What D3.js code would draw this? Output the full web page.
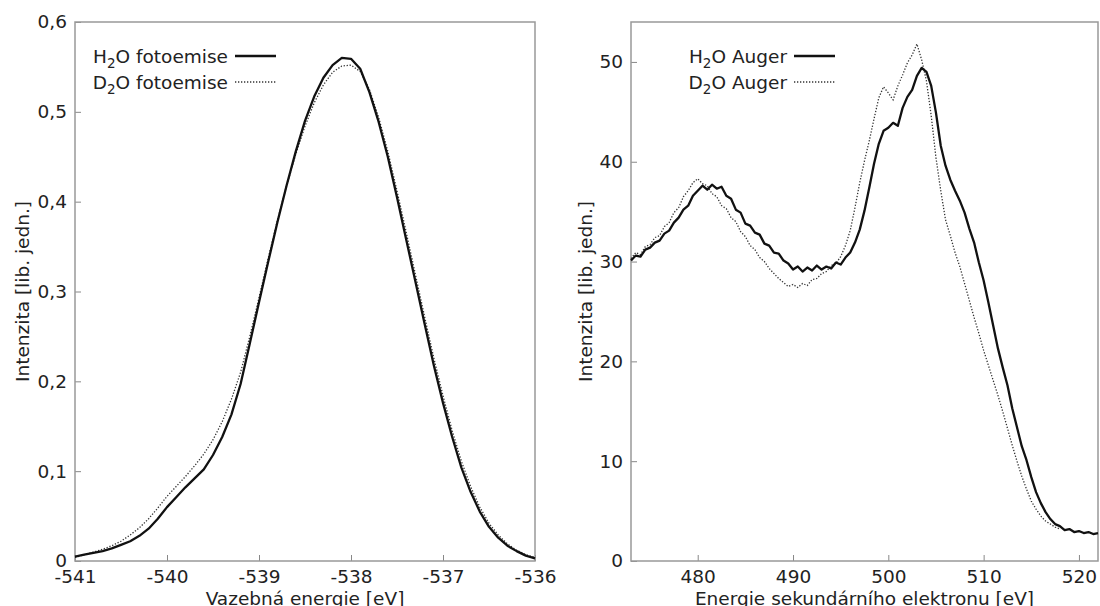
<!DOCTYPE html>
<html lang="cs">
<head>
<meta charset="UTF-8">
<title>Fotoemise a Auger</title>
<script src="https://d3js.org/d3.v7.min.js"></script>
<style>
  body { margin: 0; background: #fff; }
  svg text { font-family: "DejaVu Sans", sans-serif; fill: #222; }
</style>
</head>
<body>
<div id="chart"></div>
<script>
// ---- data: left panel (photoemission) ----
var peakEnergy = [
  -541.0, -540.9, -540.8, -540.7, -540.6, -540.5, -540.4, -540.3, -540.2, -540.1,
  -540.0, -539.9, -539.8, -539.7, -539.6, -539.5, -539.4, -539.3, -539.2, -539.1,
  -539.0, -538.9, -538.8, -538.7, -538.6, -538.5, -538.4, -538.3, -538.2, -538.1,
  -538.0, -537.9, -537.8, -537.7, -537.6, -537.5, -537.4, -537.3, -537.2, -537.1,
  -537.0, -536.9, -536.8, -536.7, -536.6, -536.5, -536.4, -536.3, -536.2, -536.1,
  -536.0];
var peakH2O = [
  0.005, 0.007, 0.009, 0.011, 0.014, 0.018, 0.022, 0.028, 0.036, 0.047,
  0.060, 0.071, 0.082, 0.092, 0.102, 0.118, 0.138, 0.163, 0.197, 0.242,
  0.288, 0.333, 0.377, 0.418, 0.456, 0.490, 0.517, 0.538, 0.552, 0.560,
  0.559, 0.548, 0.522, 0.489, 0.450, 0.405, 0.358, 0.311, 0.264, 0.218,
  0.176, 0.138, 0.104, 0.077, 0.055, 0.038, 0.026, 0.017, 0.011, 0.006,
  0.003];
var peakD2O = [
  0.004, 0.007, 0.010, 0.013, 0.017, 0.022, 0.029, 0.037, 0.047, 0.059,
  0.072, 0.083, 0.094, 0.106, 0.119, 0.135, 0.155, 0.180, 0.210, 0.250,
  0.293, 0.337, 0.379, 0.418, 0.453, 0.484, 0.510, 0.530, 0.544, 0.551,
  0.552, 0.545, 0.525, 0.494, 0.456, 0.412, 0.366, 0.319, 0.272, 0.226,
  0.184, 0.145, 0.111, 0.083, 0.060, 0.042, 0.029, 0.019, 0.012, 0.007,
  0.004];
var peakXTicks = [-541, -540, -539, -538, -537, -536];
var peakYTicks = [0, 0.1, 0.2, 0.3, 0.4, 0.5, 0.6];
var peakYLabels = ["0", "0,1", "0,2", "0,3", "0,4", "0,5", "0,6"];

// ---- data: right panel (Auger) ----
var augerEnergy = [
  473.0, 473.5, 474.0, 474.5, 475.0, 475.5, 476.0, 476.5, 477.0, 477.5,
  478.0, 478.5, 479.0, 479.5, 480.0, 480.5, 481.0, 481.5, 482.0, 482.5,
  483.0, 483.5, 484.0, 484.5, 485.0, 485.5, 486.0, 486.5, 487.0, 487.5,
  488.0, 488.5, 489.0, 489.5, 490.0, 490.5, 491.0, 491.5, 492.0, 492.5,
  493.0, 493.5, 494.0, 494.5, 495.0, 495.5, 496.0, 496.5, 497.0, 497.5,
  498.0, 498.5, 499.0, 499.5, 500.0, 500.5, 501.0, 501.5, 502.0, 502.5,
  503.0, 503.5, 504.0, 504.5, 505.0, 505.5, 506.0, 506.5, 507.0, 507.5,
  508.0, 508.5, 509.0, 509.5, 510.0, 510.5, 511.0, 511.5, 512.0, 512.5,
  513.0, 513.5, 514.0, 514.5, 515.0, 515.5, 516.0, 516.5, 517.0, 517.5,
  518.0, 518.5, 519.0, 519.5, 520.0, 520.5, 521.0, 521.5, 522.0];
var augerH2O = [
  30.1, 30.6, 30.5, 31.2, 31.4, 31.9, 32.1, 32.8, 33.1, 33.9,
  34.4, 35.2, 35.6, 36.6, 37.1, 37.6, 37.2, 37.7, 37.3, 37.5,
  36.6, 36.3, 35.2, 34.9, 33.8, 33.6, 32.9, 32.7, 31.8, 31.6,
  30.9, 30.8, 30.1, 29.8, 29.2, 29.5, 29.0, 29.4, 29.1, 29.6,
  29.2, 29.5, 29.3, 29.9, 29.7, 30.4, 30.9, 31.9, 33.2, 35.1,
  37.4, 39.8, 41.8, 43.1, 43.4, 43.9, 43.6, 45.4, 46.5, 47.2,
  48.6, 49.4, 49.0, 47.6, 44.9, 41.6, 39.6, 38.2, 37.1, 36.1,
  34.9, 33.3, 31.9, 29.9, 28.1, 25.9, 23.6, 21.3, 19.4, 17.6,
  15.3, 13.4, 11.5, 10.1, 8.4, 6.9, 5.8, 4.9, 4.2, 3.7,
  3.5, 3.1, 3.2, 2.9, 3.0, 2.8, 2.9, 2.7, 2.8];
var augerD2O = [
  30.3, 30.9, 30.7, 31.5, 31.7, 32.4, 32.6, 33.5, 33.9, 34.9,
  35.4, 36.5, 37.1, 37.9, 38.3, 37.8, 37.6, 36.8, 36.5, 35.6,
  35.3, 34.4, 34.0, 33.0, 32.5, 31.6, 31.2, 30.4, 30.0, 29.3,
  28.8, 28.3, 27.9, 27.5, 27.7, 27.4, 27.8, 27.6, 28.2, 28.3,
  28.8, 29.0, 29.6, 29.8, 30.5, 31.6, 33.1, 35.4, 37.9, 40.1,
  42.1, 44.3, 46.4, 47.5, 46.9, 46.2, 47.6, 48.7, 49.9, 50.7,
  51.8, 50.2, 48.1, 44.6, 40.4, 37.1, 34.2, 32.6, 30.9, 29.5,
  27.8, 26.1, 24.4, 22.8, 21.1, 19.6, 18.1, 16.6, 15.0, 13.3,
  11.6, 10.0, 8.5, 7.2, 6.0, 5.2, 4.5, 4.0, 3.7, 3.4,
  3.2];
var augerXTicks = [480, 490, 500, 510, 520];
var augerYTicks = [0, 10, 20, 30, 40, 50];
var augerYLabels = ["0", "10", "20", "30", "40", "50"];

var W = 1100, H = 606, FS = 18.5;

var svg = d3.select("#chart").append("svg")
  .attr("width", W)
  .attr("height", H);

function drawPanel(p) {
  var x = d3.scaleLinear().domain(p.xDomain).range([p.left, p.right]);
  var y = d3.scaleLinear().domain(p.yDomain).range([p.bottom, p.top]);

  // x axis (ticks point inward)
  var gx = svg.append("g")
    .attr("transform", "translate(0," + p.bottom + ")")
    .call(d3.axisBottom(x).tickValues(p.xTicks).tickSize(-6).tickPadding(9)
      .tickFormat(function(d) { return String(d); }));
  gx.select(".domain").remove();
  gx.selectAll("line").attr("stroke", "#888");
  gx.selectAll("text").attr("font-size", FS).attr("dy", "0.71em").attr("fill", "#222");

  // y axis
  var gy = svg.append("g")
    .attr("transform", "translate(" + p.left + ",0)")
    .call(d3.axisLeft(y).tickValues(p.yTicks).tickSize(-6).tickPadding(8)
      .tickFormat(function(d, i) { return p.yLabels[i]; }));
  gy.select(".domain").remove();
  gy.selectAll("line").attr("stroke", "#888");
  gy.selectAll("text").attr("font-size", FS).attr("fill", "#222");

  // frame
  svg.append("rect")
    .attr("x", p.left).attr("y", p.top)
    .attr("width", p.right - p.left).attr("height", p.bottom - p.top)
    .attr("fill", "none").attr("stroke", "#999").attr("stroke-width", 1.5);

  var line = d3.line()
    .x(function(d, i) { return x(p.energy[i]); })
    .y(function(d) { return y(d); });

  svg.append("path").datum(p.series2)
    .attr("d", line).attr("fill", "none")
    .attr("stroke", "#333").attr("stroke-width", 1.3)
    .attr("stroke-dasharray", "1.3,1.7");

  svg.append("path").datum(p.series1)
    .attr("d", line).attr("fill", "none")
    .attr("stroke", "#111").attr("stroke-width", 2.3)
    .attr("stroke-linejoin", "round");

  // legend
  var rows = [
    { pre: "H", post: "O " + p.legendName, dash: null, w: 2.3 },
    { pre: "D", post: "O " + p.legendName, dash: "1.3,1.7", w: 1.3 }
  ];
  rows.forEach(function(r, i) {
    var ly = 56 + i * 26;
    var t = svg.append("text")
      .attr("x", p.legendX).attr("y", ly + 7)
      .attr("text-anchor", "end").attr("font-size", FS);
    t.append("tspan").text(r.pre);
    t.append("tspan").attr("dy", 5).attr("font-size", 13.5).text("2");
    t.append("tspan").attr("dy", -5).text(r.post);
    svg.append("line")
      .attr("x1", p.legendX + 7).attr("x2", p.legendX + 48)
      .attr("y1", ly).attr("y2", ly)
      .attr("stroke", r.dash ? "#333" : "#111")
      .attr("stroke-width", r.w)
      .attr("stroke-dasharray", r.dash);
  });

  // axis titles
  svg.append("text")
    .attr("x", (p.left + p.right) / 2).attr("y", 605)
    .attr("text-anchor", "middle").attr("font-size", FS)
    .text(p.xTitle);
  svg.append("text")
    .attr("transform", "translate(" + p.yTitleX + "," + (p.top + p.bottom) / 2 + ") rotate(-90)")
    .attr("text-anchor", "middle").attr("font-size", FS)
    .text("Intenzita [lib. jedn.]");
}

drawPanel({
  left: 75, right: 535, top: 22, bottom: 561,
  xDomain: [-541, -536], yDomain: [0, 0.6],
  xTicks: peakXTicks, yTicks: peakYTicks, yLabels: peakYLabels,
  energy: peakEnergy, series1: peakH2O, series2: peakD2O,
  legendName: "fotoemise", legendX: 228,
  xTitle: "Vazebná energie [eV]", yTitleX: 29
});

drawPanel({
  left: 631, right: 1098, top: 22, bottom: 561,
  xDomain: [473, 522], yDomain: [0, 54],
  xTicks: augerXTicks, yTicks: augerYTicks, yLabels: augerYLabels,
  energy: augerEnergy, series1: augerH2O, series2: augerD2O,
  legendName: "Auger", legendX: 787,
  xTitle: "Energie sekundárního elektronu [eV]", yTitleX: 592
});
</script>
</body>
</html>
